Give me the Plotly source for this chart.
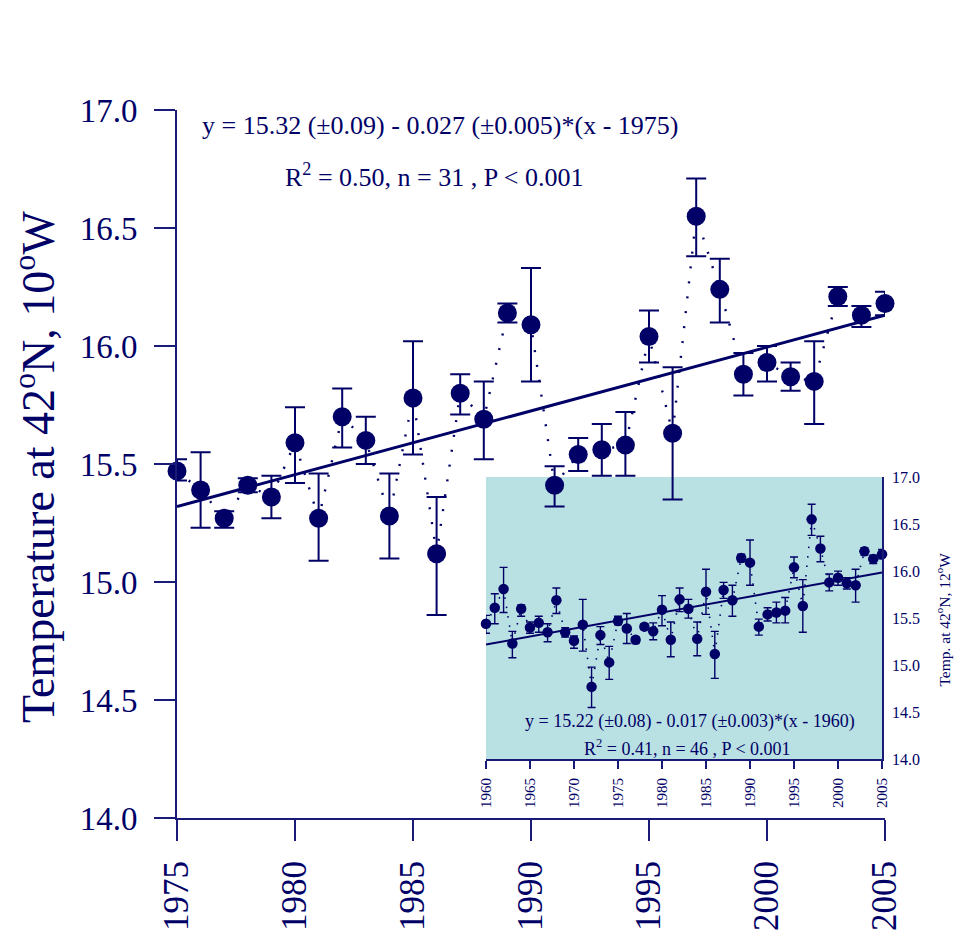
import plotly.graph_objects as go

# Annual mean temperature series, 1960-2005 (mean and error-bar bounds)
years = list(range(1960, 2006))
temp = [15.44, 15.61, 15.81, 15.23, 15.60, 15.40, 15.45, 15.35, 15.69, 15.35,
        15.26, 15.43, 14.77, 15.32, 15.03,
        15.47, 15.39, 15.27, 15.41, 15.36, 15.59, 15.27, 15.70, 15.60, 15.28,
        15.78, 15.12, 15.80, 15.69, 16.14, 16.09, 15.41, 15.54, 15.56, 15.58,
        16.04, 15.63, 16.55, 16.24, 15.88, 15.93, 15.87, 15.85, 16.21, 16.13,
        16.18]
temp_hi = [15.53, 15.76, 16.04, 15.36, 15.64, 15.46, 15.52, 15.44, 15.82, 15.40,
           15.31, 15.70, 14.98, 15.41, 15.20,
           15.52, 15.55, 15.30, 15.44, 15.45, 15.74, 15.46, 15.82, 15.70, 15.46,
           16.02, 15.36, 15.88, 15.85, 16.18, 16.33, 15.49, 15.61, 15.67, 15.72,
           16.15, 15.91, 16.71, 16.37, 15.97, 16.00, 15.93, 16.02, 16.25, 16.17,
           16.23]
temp_lo = [15.34, 15.44, 15.56, 15.08, 15.52, 15.34, 15.35, 15.25, 15.55, 15.30,
           15.18, 15.15, 14.55, 15.22, 14.85,
           15.43, 15.23, 15.23, 15.38, 15.27, 15.42, 15.09, 15.57, 15.50, 15.10,
           15.54, 14.86, 15.71, 15.52, 16.10, 15.85, 15.32, 15.47, 15.45, 15.45,
           15.93, 15.35, 16.38, 16.10, 15.79, 15.85, 15.81, 15.67, 16.17, 16.08,
           16.13]

# Linear trends: intercept at the reference year and slope per year
main_start = 1975
main_intercept = 15.32
main_slope = 0.027
inset_start = 1960
inset_intercept = 15.22
inset_slope = 0.017

main_ticks = [1975, 1980, 1985, 1990, 1995, 2000, 2005]
inset_ticks = [1960, 1965, 1970, 1975, 1980, 1985, 1990, 1995, 2000, 2005]

main_eq = "y = 15.32 (±0.09) - 0.027 (±0.005)*(x - 1975)"
main_stats = "R<sup>2</sup> = 0.50, n = 31 , P &lt; 0.001"
inset_eq = "y = 15.22 (±0.08) - 0.017 (±0.003)*(x - 1960)"
inset_stats = "R<sup>2</sup> = 0.41, n = 46 , P &lt; 0.001"
main_ytitle = "Temperature at 42<sup>o</sup>N, 10<sup>o</sup>W"
inset_ytitle = "Temp. at 42<sup>o</sup>N, 12<sup>o</sup>W"

NAVY = "#000066"
AXIS = "#1a1a78"
INSET_BG = "#b9e0e3"
FONT = "Liberation Serif"

i0 = years.index(main_start)
m_years = years[i0:]
m_temp = temp[i0:]
m_hi = temp_hi[i0:]
m_lo = temp_lo[i0:]

fig = go.Figure()

# ---- main panel ----
fig.add_trace(go.Scatter(
    x=m_years, y=m_temp, mode="lines",
    line=dict(color=NAVY, width=2.4, dash="2px,13px"),
    hoverinfo="skip", showlegend=False, xaxis="x", yaxis="y"))
fig.add_trace(go.Scatter(
    x=[main_start, m_years[-1]],
    y=[main_intercept, main_intercept + main_slope * (m_years[-1] - main_start)],
    mode="lines", line=dict(color=NAVY, width=3),
    showlegend=False, xaxis="x", yaxis="y"))
fig.add_trace(go.Scatter(
    x=m_years, y=m_temp, mode="markers",
    marker=dict(size=19, color=NAVY),
    error_y=dict(type="data", symmetric=False,
                 array=[h - v for h, v in zip(m_hi, m_temp)],
                 arrayminus=[v - l for v, l in zip(m_temp, m_lo)],
                 color=NAVY, thickness=2, width=10),
    cliponaxis=False, showlegend=False, xaxis="x", yaxis="y"))

# ---- inset panel ----
fig.add_trace(go.Scatter(
    x=years, y=temp, mode="lines",
    line=dict(color=NAVY, width=1.6, dash="1.5px,8px"),
    hoverinfo="skip", showlegend=False, xaxis="x2", yaxis="y2"))
fig.add_trace(go.Scatter(
    x=[inset_start, years[-1]],
    y=[inset_intercept, inset_intercept + inset_slope * (years[-1] - inset_start)],
    mode="lines", line=dict(color=NAVY, width=2),
    showlegend=False, xaxis="x2", yaxis="y2"))
fig.add_trace(go.Scatter(
    x=years, y=temp, mode="markers",
    marker=dict(size=10.5, color=NAVY),
    error_y=dict(type="data", symmetric=False,
                 array=[h - v for h, v in zip(temp_hi, temp)],
                 arrayminus=[v - l for v, l in zip(temp, temp_lo)],
                 color=NAVY, thickness=1.4, width=4),
    cliponaxis=False, showlegend=False, xaxis="x2", yaxis="y2"))

fig.update_layout(
    template="none",
    width=954, height=930,
    margin=dict(l=177, r=69, t=110, b=112, autoexpand=False),
    paper_bgcolor="white", plot_bgcolor="rgba(0,0,0,0)",
    font=dict(family=FONT, color=NAVY),
    xaxis=dict(range=[1975, 2005], tickvals=main_ticks, tickangle=-90,
               ticks="outside", ticklen=21, tickwidth=2, tickcolor=AXIS,
               showline=True, linecolor=AXIS, linewidth=2,
               showgrid=False, zeroline=False, automargin=False,
               ticklabelstandoff=6,
               tickfont=dict(size=35, family=FONT, color=NAVY),
               domain=[0, 1], anchor="y"),
    yaxis=dict(range=[14, 17], dtick=0.5, tickformat=".1f",
               ticks="outside", ticklen=21, tickwidth=2, tickcolor=AXIS,
               showline=True, linecolor=AXIS, linewidth=2,
               showgrid=False, zeroline=False, automargin=False,
               ticklabelstandoff=10,
               tickfont=dict(size=33, family=FONT, color=NAVY),
               domain=[0, 1], anchor="x"),
    xaxis2=dict(range=[1960, 2005], tickvals=inset_ticks, tickangle=-90,
                ticks="outside", ticklen=8, tickwidth=1.5, tickcolor=AXIS,
                showline=True, linecolor=AXIS, linewidth=1.5,
                showgrid=False, zeroline=False, automargin=False,
                ticklabelstandoff=3,
                tickfont=dict(size=15, family=FONT, color=NAVY),
                domain=[0.4364, 0.9958], anchor="y2"),
    yaxis2=dict(range=[14, 17], dtick=0.5, tickformat=".1f", side="right",
                ticks="", showline=True, linecolor=AXIS, linewidth=1.5,
                showgrid=False, zeroline=False, automargin=False,
                ticklabelstandoff=5,
                tickfont=dict(size=16, family=FONT, color=NAVY),
                domain=[0.0829, 0.4816], anchor="x2"),
    shapes=[dict(type="rect", xref="paper", yref="paper",
                 x0=0.4364, x1=0.9958, y0=0.0829, y1=0.4816,
                 fillcolor=INSET_BG, line=dict(width=0), layer="below")],
    annotations=[
        dict(text=main_eq, xref="paper", yref="paper", x=0.372, y=0.9788,
             showarrow=False, xanchor="center", yanchor="middle",
             font=dict(size=26, family=FONT, color=NAVY)),
        dict(text=main_stats, xref="paper", yref="paper", x=0.363, y=0.9068,
             showarrow=False, xanchor="center", yanchor="middle",
             font=dict(size=26, family=FONT, color=NAVY)),
        dict(text=main_ytitle, xref="paper", yref="paper", x=-0.2006, y=0.4958,
             textangle=-90, showarrow=False, xanchor="center", yanchor="middle",
             font=dict(size=46, family=FONT, color=NAVY)),
        dict(text=inset_eq, xref="paper", yref="paper", x=0.7246, y=0.136,
             showarrow=False, xanchor="center", yanchor="middle",
             font=dict(size=18, family=FONT, color=NAVY)),
        dict(text=inset_stats, xref="paper", yref="paper", x=0.721, y=0.0989,
             showarrow=False, xanchor="center", yanchor="middle",
             font=dict(size=18, family=FONT, color=NAVY)),
        dict(text=inset_ytitle, xref="paper", yref="paper", x=1.0826, y=0.281,
             textangle=-90, showarrow=False, xanchor="center", yanchor="middle",
             font=dict(size=15.5, family=FONT, color=NAVY)),
    ],
)

fig.write_html("out.html")
